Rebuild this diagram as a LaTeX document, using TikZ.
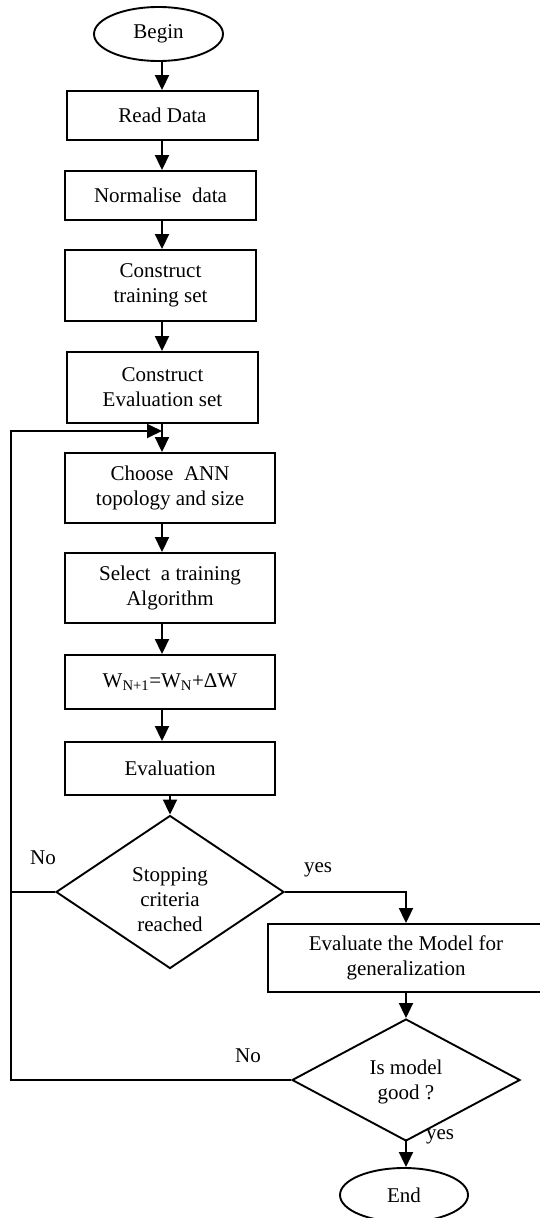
\documentclass[tikz,border=0pt]{standalone}
\usepackage{fontspec}
\setmainfont{Liberation Serif}
\usetikzlibrary{shapes.geometric,arrows.meta}
\begin{document}
\begin{tikzpicture}[x=1pt,y=-1pt,
  txt/.style={font=\fontsize{21}{25}\selectfont, align=center},
  box/.style={draw, rectangle, line width=1.9pt, inner sep=0pt, txt},
  term/.style={draw, ellipse, line width=1.9pt, inner sep=0pt, txt},
  dia/.style={draw, diamond, line width=1.9pt, inner sep=0pt},
  ln/.style={line width=1.9pt},
  arr/.style={line width=1.9pt, -{Triangle[width=14pt,length=15pt]}}]
\fill[white] (0,0) rectangle (540,1218);
\useasboundingbox (0,0) rectangle (540,1218);
% nodes
\node[term, minimum width=129pt, minimum height=54pt] (begin) at (158.5,34) {Begin};
\node[box, minimum width=191pt, minimum height=49pt] (read) at (162.5,115.5) {Read Data};
\node[box, minimum width=191pt, minimum height=49pt] (norm) at (160.5,195.5) {Normalise\ \ data};
\node[box, minimum width=191pt, minimum height=71pt] (train) at (160.5,285.5) {Construct\\training set};
\node[box, minimum width=191pt, minimum height=71pt] (evset) at (162.5,387.5) {Construct\\Evaluation set};
\node[box, minimum width=210pt, minimum height=70pt] (choose) at (170,488) {Choose\ \ ANN\\topology and size};
\node[box, minimum width=210pt, minimum height=70pt] (select) at (170,588) {Select\ \ a training\\Algorithm};
\node[box, minimum width=210pt, minimum height=54pt] (wbox) at (170,682) {W\textsubscript{N+1}=W\textsubscript{N}+ΔW};
\node[box, minimum width=210pt, minimum height=53pt] (evbox) at (170,768.5) {Evaluation};
\node[dia, minimum width=228pt, minimum height=153pt] (d1) at (170,892) {};
\node[txt] (t1) at (170,900) {Stopping\\criteria\\reached};
\node[box, minimum width=276pt, minimum height=68pt] (model) at (406,958) {Evaluate the Model for\\generalization};
\node[dia, minimum width=228pt, minimum height=122pt] (d2) at (406,1080) {};
\node[txt] (t2) at (406,1082) {Is model\\good ?};
\node[term, minimum width=128pt, minimum height=54pt] (end) at (404,1195) {End};
% labels
\node[txt] (no1) at (43,858) {No};
\node[txt] (yes1) at (318,870) {yes};
\node[txt] (no2) at (248,1056) {No};
\node[txt] (yes2) at (440,1137) {yes};
% helper coordinates
\coordinate (ax) at (162,0);
\coordinate (lx) at (11,0);
\coordinate (fb) at (162,431);
% connectors
\draw[arr] (begin.south -| ax) -- (read.north -| ax);
\draw[arr] (read.south -| ax) -- (norm.north -| ax);
\draw[arr] (norm.south -| ax) -- (train.north -| ax);
\draw[arr] (train.south -| ax) -- (evset.north -| ax);
\draw[arr] (evset.south -| ax) -- (choose.north -| ax);
\draw[arr] (choose.south -| ax) -- (select.north -| ax);
\draw[arr] (select.south -| ax) -- (wbox.north -| ax);
\draw[arr] (wbox.south -| ax) -- (evbox.north -| ax);
\draw[arr] (evbox.south) -- (d1.north);
\draw[arr] (d1.east) -- (d1.east -| model.north) -- (model.north);
\draw[arr] (model.south) -- (d2.north);
\draw[arr] ([yshift=3pt]d2.south) -- (d2.south |- end.north);
\draw[ln] (d1.west) -- (d1.west -| lx);
\draw[arr] (d2.west) -- (d2.west -| lx) -- (lx |- fb) -- (fb);
\end{tikzpicture}
\end{document}
